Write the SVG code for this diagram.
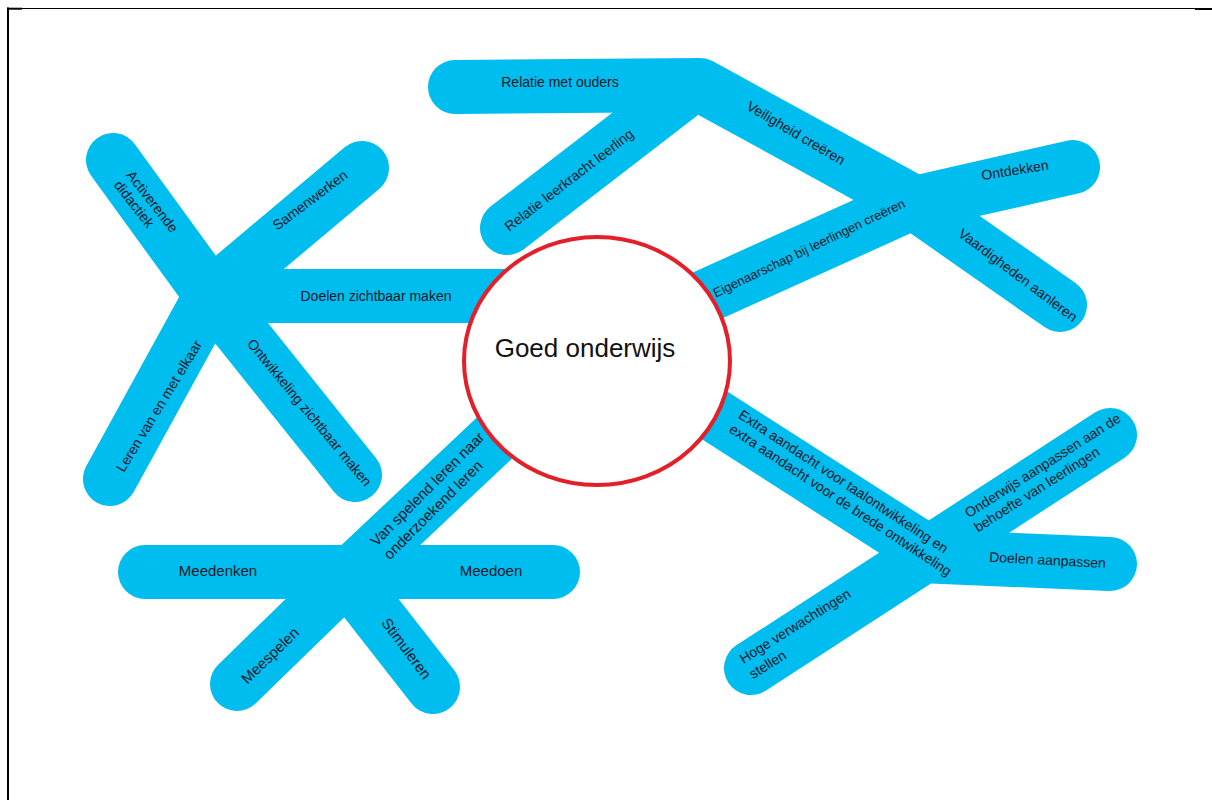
<svg xmlns="http://www.w3.org/2000/svg" width="1212" height="800" viewBox="0 0 1212 800">
<style>
.band{fill:none;stroke:#00bdef;stroke-width:54;stroke-linecap:round;stroke-linejoin:round}
.lbl{font-family:"Liberation Sans",Arial,sans-serif;font-size:14px;fill:#15182a}
.c{text-anchor:middle}
.s{text-anchor:start}
.frame{stroke:#000;fill:none}
</style>
<rect width="1212" height="800" fill="#fff"/>
<g id="frame">
<line class="frame" x1="7" y1="8.5" x2="1212" y2="8.5" stroke-width="1.2"/>
<line class="frame" x1="8" y1="7.5" x2="8" y2="800" stroke-width="2"/>
<line class="frame" x1="7" y1="8.7" x2="22" y2="8.7" stroke-width="2"/>
<line class="frame" x1="1195" y1="9" x2="1212" y2="9" stroke-width="2"/>
</g>
<g id="connectors">
<path class="band" d="M211,296 L520,296"/>
<path class="band" d="M113,160 L211,295"/>
<path class="band" d="M211,295 L362,168"/>
<path class="band" d="M211,295 L110,479"/>
<path class="band" d="M211,295 L355,475"/>
<path class="band" d="M455,87 L700,85 L910,200 L1060,305"/>
<path class="band" d="M507,228 L690,87"/>
<path class="band" d="M640,326 L910,204 L1073,167"/>
<path class="band" d="M347,577 L540,395"/>
<path class="band" d="M145,572 L553,572"/>
<path class="band" d="M347,577 L237,684"/>
<path class="band" d="M347,577 L433,687"/>
<path class="band" d="M650,374 L928,552"/>
<path class="band" d="M751,668 L1110,435"/>
<path class="band" d="M920,556 L1110,564"/>
</g>
<g id="center">
<ellipse cx="597" cy="361" rx="133" ry="124" fill="#fff" stroke="#e3202a" stroke-width="4"/>
<text class="lbl c" x="585" y="357" style="font-size:26px;fill:#111">Goed onderwijs</text>
</g>
<g id="n-activerende"><text class="lbl s" transform="translate(129.7,172.3) rotate(52)"><tspan x="0" y="0" dy="0.35em">Activerende</tspan><tspan x="0" y="16" dy="0.35em">didactiek</tspan></text></g>
<g id="n-samenwerken"><text class="lbl c" transform="translate(310,200) rotate(-37)" dy="0.35em">Samenwerken</text></g>
<g id="n-doelen-zichtbaar"><text class="lbl c" x="376" y="296" dy="0.35em">Doelen zichtbaar maken</text></g>
<g id="n-leren"><text class="lbl c" transform="translate(159,406) rotate(-58.6)" dy="0.35em">Leren van en met elkaar</text></g>
<g id="n-ontwikkeling"><text class="lbl c" transform="translate(309.5,412.5) rotate(50.4)" dy="0.35em">Ontwikkeling zichtbaar maken</text></g>
<g id="n-relatie-ouders"><text class="lbl c" x="560" y="82" dy="0.35em">Relatie met ouders</text></g>
<g id="n-relatie-leerkracht"><text class="lbl c" transform="translate(569,180) rotate(-37.5)" dy="0.35em">Relatie leerkracht leerling</text></g>
<g id="n-veiligheid"><text class="lbl c" transform="translate(796,133) rotate(30.5)" dy="0.35em">Veiligheid creëren</text></g>
<g id="n-eigenaarschap"><text class="lbl c" transform="translate(809,248) rotate(-25.6)" dy="0.35em" style="font-size:13px">Eigenaarschap bij leerlingen creëren</text></g>
<g id="n-ontdekken"><text class="lbl c" transform="translate(1015,170) rotate(-9)" dy="0.35em">Ontdekken</text></g>
<g id="n-vaardigheden"><text class="lbl c" transform="translate(1018,275) rotate(37)" dy="0.35em">Vaardigheden aanleren</text></g>
<g id="n-meedenken"><text class="lbl c" x="218" y="571" dy="0.35em" style="font-size:15px">Meedenken</text></g>
<g id="n-meedoen"><text class="lbl c" x="491" y="571" dy="0.35em" style="font-size:15px">Meedoen</text></g>
<g id="n-spelend"><text class="lbl s" transform="translate(372.7,543.3) rotate(-45)" style="font-size:15px"><tspan x="0" y="0" dy="0.35em">Van spelend leren naar</tspan><tspan x="0" y="19" dy="0.35em">onderzoekend leren</tspan></text></g>
<g id="n-meespelen"><text class="lbl c" transform="translate(270,655.5) rotate(-44)" dy="0.35em" style="font-size:15px">Meespelen</text></g>
<g id="n-stimuleren"><text class="lbl c" transform="translate(406.5,648.5) rotate(53)" dy="0.35em" style="font-size:15px">Stimuleren</text></g>
<g id="n-extra"><text class="lbl s" transform="translate(740.3,413.2) rotate(33.5)"><tspan x="0" y="0" dy="0.35em">Extra aandacht voor taalontwikkeling en</tspan><tspan x="0" y="17" dy="0.35em">extra aandacht voor de brede ontwikkeling</tspan></text></g>
<g id="n-onderwijs"><text class="lbl s" transform="translate(966.2,514.1) rotate(-32.5)"><tspan x="0" y="0" dy="0.35em">Onderwijs aanpassen aan de</tspan><tspan x="0" y="17" dy="0.35em">behoefte van leerlingen</tspan></text></g>
<g id="n-doelen-aanpassen"><text class="lbl c" transform="translate(1047.5,560) rotate(3)" dy="0.35em">Doelen aanpassen</text></g>
<g id="n-hoge"><text class="lbl s" transform="translate(740.9,659.8) rotate(-32)"><tspan x="0" y="0" dy="0.35em">Hoge verwachtingen</tspan><tspan x="0" y="18" dy="0.35em">stellen</tspan></text></g>
</svg>
